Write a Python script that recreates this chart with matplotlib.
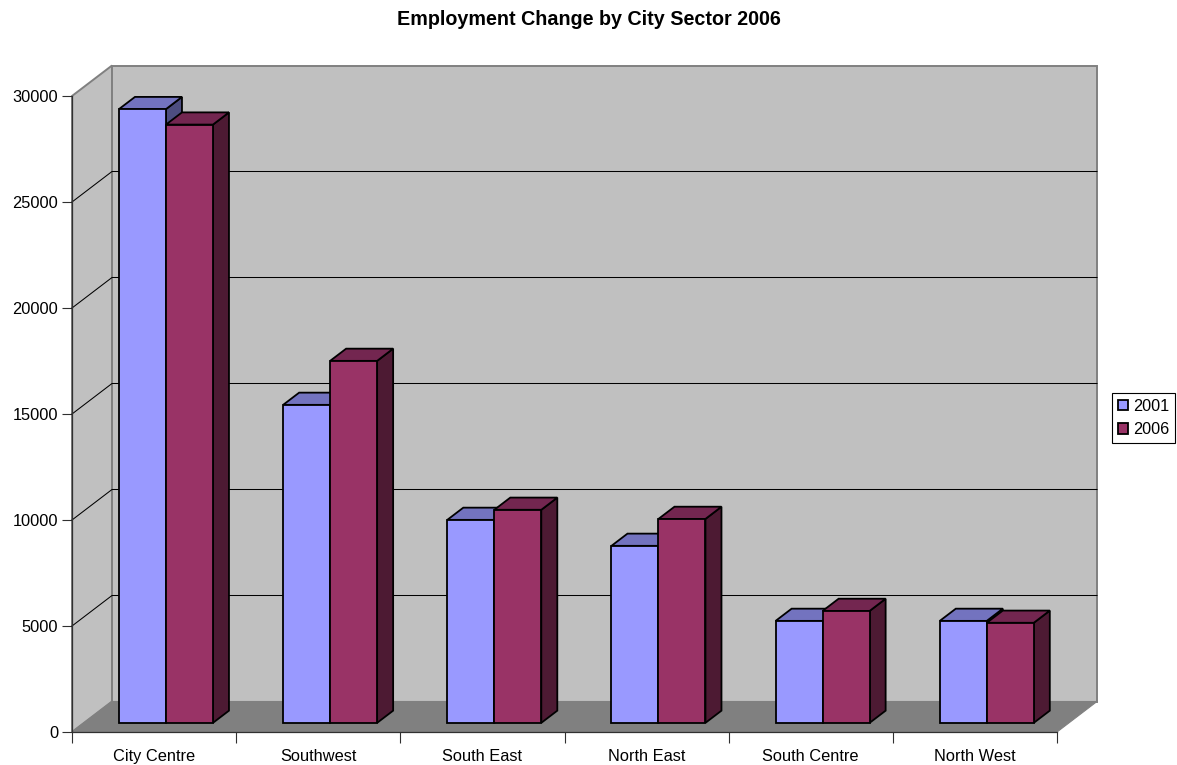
import matplotlib
matplotlib.use("Agg")
import matplotlib.pyplot as plt
from matplotlib.patches import Polygon

plt.rcParams['font.family'] = ['Liberation Sans', 'DejaVu Sans']

title = "Employment Change by City Sector 2006"
sectors = ["City Centre", "Southwest", "South East", "North East", "South Centre", "North West"]
years = ["2001", "2006"]
jobs_2001 = [28950, 15000, 9575, 8350, 4810, 4810]
jobs_2006 = [28220, 17075, 10050, 9620, 5280, 4720]
value_ticks = [0, 5000, 10000, 15000, 20000, 25000, 30000]

W, H = 1177, 765
fig = plt.figure(figsize=(W / 100, H / 100), dpi=100, facecolor="white")

# Front plane of the box: six category slots across, 0-30000 up.
left, right, top, bottom = 72, 1057, 96, 732
ax = fig.add_axes([left / W, 1 - bottom / H, (right - left) / W, (bottom - top) / H])
ax.set_xlim(0, 6)
ax.set_ylim(0, 30000)
ax.patch.set_visible(False)

# Oblique depth of the box, in data units.
px_x = 6 / (right - left)
px_y = 30000 / (bottom - top)
DX, DY = 40 * px_x, 30.5 * px_y

WALL, FLOOR, EDGE = "#C0C0C0", "#808080", "#808080"

ax.add_patch(Polygon([(0, 0), (DX, DY), (DX, 30000 + DY), (0, 30000)], closed=True,
                     fc=WALL, ec=EDGE, lw=1.4, clip_on=False, zorder=1))
ax.add_patch(Polygon([(DX, DY), (6 + DX, DY), (6 + DX, 30000 + DY), (DX, 30000 + DY)], closed=True,
                     fc=WALL, ec=EDGE, lw=1.4, clip_on=False, zorder=1))
ax.add_patch(Polygon([(0, 0), (6, 0), (6 + DX, DY), (DX, DY)], closed=True,
                     fc=FLOOR, ec=EDGE, lw=0.8, clip_on=False, zorder=1))

# Gridlines fold from the side wall onto the back wall.
for v in value_ticks[1:-1]:
    ax.plot([0, DX, 6 + DX], [v, v + DY, v + DY], color="black", lw=0.75,
            clip_on=False, zorder=2, solid_joinstyle="miter")

# Bars stand between 30% and 70% of the box depth.
NEAR, FAR = 0.3, 0.7
BAR_W = 47 * px_x
START = 0.213
EDGE_W = 1.3

styles = [("#9999FF", "#7373BF", "#4D4D80"), ("#993366", "#732650", "#4D1A33")]
series = [jobs_2001, jobs_2006]
handles = []
for i in range(len(sectors)):
    for s, values in enumerate(series):
        front, lid, side = styles[s]
        x0 = i + START + s * BAR_W + NEAR * DX
        y0 = NEAR * DY
        ddx, ddy = (FAR - NEAR) * DX, (FAR - NEAR) * DY
        v = values[i]
        z = 3 + i * 2 + s * 0.5
        ax.add_patch(Polygon([(x0 + BAR_W, y0), (x0 + BAR_W + ddx, y0 + ddy),
                              (x0 + BAR_W + ddx, y0 + v + ddy), (x0 + BAR_W, y0 + v)],
                             closed=True, fc=side, ec="black", lw=EDGE_W, clip_on=False, zorder=z))
        ax.add_patch(Polygon([(x0, y0 + v), (x0 + BAR_W, y0 + v),
                              (x0 + BAR_W + ddx, y0 + v + ddy), (x0 + ddx, y0 + v + ddy)],
                             closed=True, fc=lid, ec="black", lw=EDGE_W, clip_on=False, zorder=z))
        bar = ax.bar(x0, v, width=BAR_W, bottom=y0, align="edge", color=front,
                     edgecolor="black", linewidth=EDGE_W, clip_on=False, zorder=z + 0.1,
                     label=years[s] if i == 0 else None)
        if i == 0:
            handles.append(bar)

for name in ("top", "right"):
    ax.spines[name].set_visible(False)
for name in ("left", "bottom"):
    ax.spines[name].set_linewidth(0.9)
    ax.spines[name].set_color("#303030")
    ax.spines[name].set_zorder(20)

ax.set_yticks(value_ticks)
ax.set_yticklabels([str(v) for v in value_ticks])
ax.tick_params(axis="y", length=7.5, width=0.8, pad=2.5, labelsize=11.8, color="#303030")
ax.set_xticks(range(7))
ax.set_xticklabels([""] * 7)
ax.tick_params(axis="x", which="major", length=8, width=0.8, color="#303030")
ax.set_xticks([i + 0.5 for i in range(6)], minor=True)
ax.set_xticklabels(sectors, minor=True)
ax.tick_params(axis="x", which="minor", length=0, pad=12.5, labelsize=11.8)

fig.text(589 / W, 1 - 19.5 / H, title, ha="center", va="center", fontsize=14.2, fontweight="bold")

legend = fig.legend(handles=handles, labels=years, loc="center left",
                    bbox_to_anchor=(1112 / W, 1 - 418 / H), fontsize=11.7,
                    fancybox=False, framealpha=1, edgecolor="black",
                    handlelength=0.62, handleheight=0.62, handletextpad=0.28,
                    borderpad=0.37, labelspacing=0.5, borderaxespad=0)
legend.get_frame().set_linewidth(0.8)

fig.savefig("out.png", dpi=100)
